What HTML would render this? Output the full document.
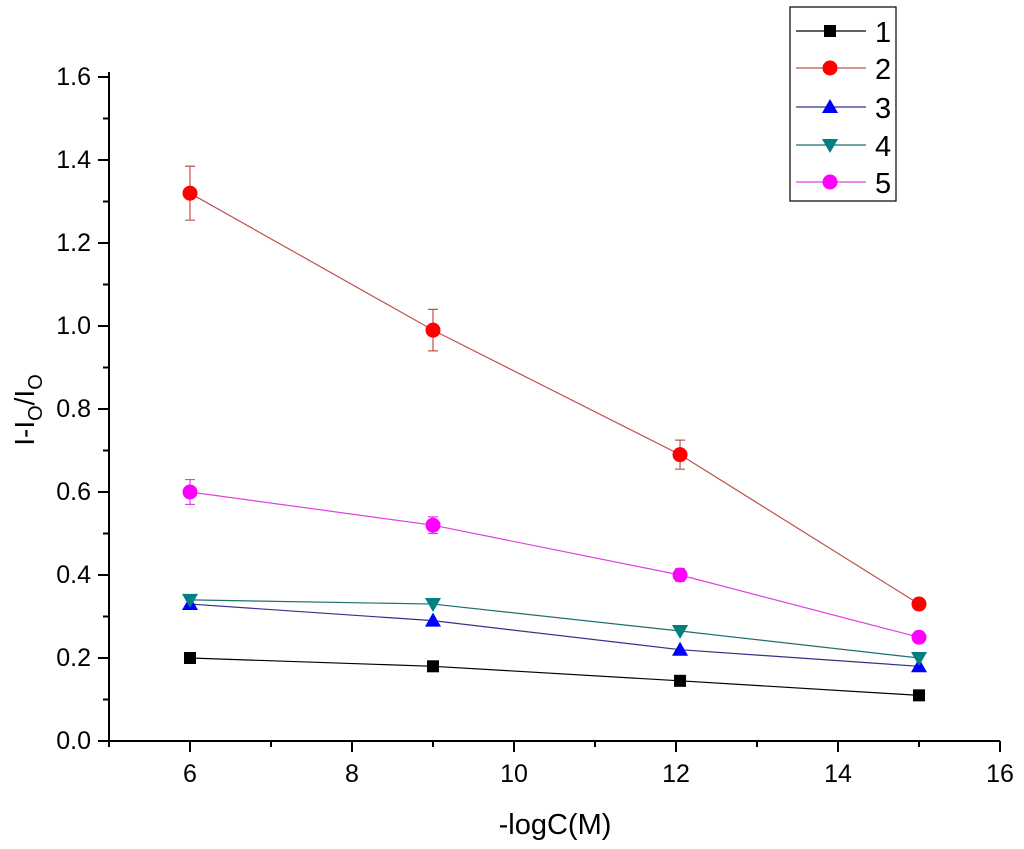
<!DOCTYPE html>
<html><head><meta charset="utf-8"><style>body{margin:0;background:#fff}svg{display:block;font-family:"Liberation Sans",Arial,sans-serif}</style></head>
<body>
<svg id="chart" width="1024" height="849" xmlns="http://www.w3.org/2000/svg"></svg>
<script>
const xVals=[6,9,12.05,15];
const s1=[0.20,0.18,0.145,0.11];
const s2=[1.32,0.99,0.69,0.33];
const s2err=[0.065,0.05,0.035,0.01];
const s3=[0.33,0.29,0.22,0.18];
const s4=[0.34,0.33,0.265,0.20];
const s5=[0.60,0.52,0.40,0.25];
const s5err=[0.03,0.02,0.015,0.01];
const xTicks=[6,8,10,12,14,16];
const yTicks=[0.0,0.2,0.4,0.6,0.8,1.0,1.2,1.4,1.6];
const legendLabels=['1','2','3','4','5'];

const svg=document.getElementById('chart');
const NS='http://www.w3.org/2000/svg';
const X=v=>109+(v-5)*81;
const Y=v=>741-v*415;
function el(t,a,p){const e=document.createElementNS(NS,t);for(const k in a)e.setAttribute(k,a[k]);(p||svg).appendChild(e);return e;}
const ax=el('path',{d:`M109,${Y(1.6)-5}V741H1000`,stroke:'#000','stroke-width':2,fill:'none'});


for(let v=5;v<=16;v+=1){el('line',{x1:X(v),x2:X(v),y1:741,y2:v%2==0?752:747,stroke:'#000','stroke-width':2});}
xTicks.forEach(v=>{const t=el('text',{x:X(v),y:782,'text-anchor':'middle','font-size':25});t.textContent=v;

});
for(let i=0;i<=16;i++){const v=i*0.1;el('line',{x1:i%2==0?98:103,x2:109,y1:Y(v),y2:Y(v),stroke:'#000','stroke-width':2});}
yTicks.forEach(v=>{const t=el('text',{x:91,y:Y(v)+8,'text-anchor':'end','font-size':25});t.textContent=v.toFixed(1);

});
const xt=el('text',{x:555,y:834,'text-anchor':'middle','font-size':29});xt.textContent='-logC(M)';


const yt=el('text',{transform:'translate(34,410) rotate(-90)','text-anchor':'middle','font-size':28});
yt.innerHTML='I-I<tspan font-size="20" dy="8">O</tspan><tspan dy="-8">/I</tspan><tspan font-size="20" dy="8">O</tspan>';



const series=[
 {v:s1,c:'#000',line:'#000',m:'sq'},
 {v:s2,c:'#f00',line:'#c0504d',m:'ci',err:s2err},
 {v:s3,c:'#00f',line:'#33338a',m:'up'},
 {v:s4,c:'#008080',line:'#1f6f6f',m:'dn'},
 {v:s5,c:'#f0f',line:'#e040e0',m:'ci',err:s5err}];
function marker(g,m,x,y,c){
 if(m=='sq')return el('rect',{x:x-6,y:y-6,width:12,height:12,fill:c},g);
 if(m=='ci')return el('circle',{cx:x,cy:y,r:7.5,fill:c},g);
 if(m=='up')return el('path',{d:`M${x},${y-8}L${x+8},${y+6}L${x-8},${y+6}Z`,fill:c},g);
 return el('path',{d:`M${x},${y+8}L${x+8},${y-6}L${x-8},${y-6}Z`,fill:c},g);
}
series.forEach((s,i)=>{
 const g=el('g',{});
 
 
 el('polyline',{points:s.v.map((v,j)=>X(xVals[j])+','+Y(v)).join(' '),fill:'none',stroke:s.line,'stroke-width':1.2},g);
 s.v.forEach((v,j)=>{
  const x=X(xVals[j]);
  if(s.err){const e=s.err[j];el('path',{d:`M${x},${Y(v+e)}V${Y(v-e)}M${x-5},${Y(v+e)}h10M${x-5},${Y(v-e)}h10`,stroke:s.line,'stroke-width':1.2,fill:'none'},g);}
  const mk=marker(g,s.m,x,Y(v),s.c);
  
  
 });
});
const lg=el('g',{});


el('rect',{x:790,y:7,width:106,height:194,fill:'#fff',stroke:'#000','stroke-width':1.2},lg);
const ly=[31,68,107,145,182];
series.forEach((s,i)=>{
 const eg=el('g',{},lg);
 
 
 el('line',{x1:796,x2:866,y1:ly[i],y2:ly[i],stroke:s.line,'stroke-width':1.2},eg);
 marker(eg,s.m,830,ly[i],s.c);
 const t=el('text',{x:875,y:ly[i]+11,'font-size':29},eg);t.textContent=legendLabels[i];
});
</script>
</body></html>
